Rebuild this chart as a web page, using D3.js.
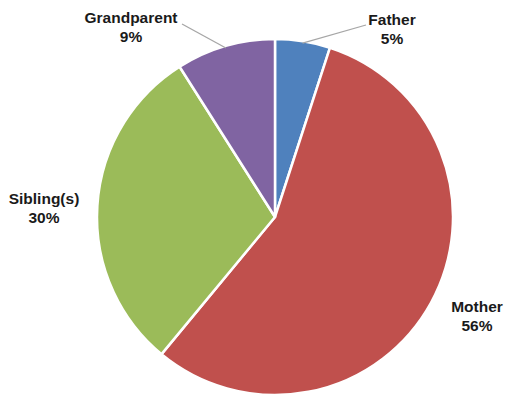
<!DOCTYPE html>
<html>
<head>
<meta charset="utf-8">
<script src="https://cdn.jsdelivr.net/npm/d3@7"></script>
<style>
  html, body { margin: 0; padding: 0; background: #ffffff; }
  svg { display: block; }
</style>
</head>
<body>
<svg id="chart" width="505" height="397"></svg>
<script>
// Who the respondents live with, share of total (%)
const categories = ["Father", "Mother", "Sibling(s)", "Grandparent"];
const values = [5, 56, 30, 9];
const colors = ["#4F81BD", "#C0504D", "#9BBB59", "#8064A2"];

// Label anchor positions (centre of the two-line label) and leader-line endpoints
const labelPos = [[392, 25], [477, 312], [44, 204], [131, 23]];
const leaderFrom = [[366, 25], null, null, [182, 24]];

const width = 505, height = 397;
const cx = 275, cy = 217, radius = 178;

const svg = d3.select("#chart");
const g = svg.append("g").attr("transform", `translate(${cx},${cy})`);

const data = categories.map((c, i) => ({ name: c, value: values[i], color: colors[i], i }));

const pie = d3.pie().value(d => d.value).sort(null);
const arc = d3.arc().innerRadius(0).outerRadius(radius);
const arcs = pie(data);

g.selectAll("path.slice")
  .data(arcs)
  .join("path")
  .attr("class", "slice")
  .attr("d", arc)
  .attr("fill", d => d.data.color)
  .attr("stroke", "#ffffff")
  .attr("stroke-width", 2.5)
  .attr("stroke-linejoin", "round");

// Leader lines for the small slices
const edge = d3.arc().innerRadius(radius - 2).outerRadius(radius - 2);
arcs.forEach(d => {
  const from = leaderFrom[d.data.i];
  if (!from) return;
  const [ex, ey] = edge.centroid(d);
  svg.append("line")
    .attr("x1", from[0]).attr("y1", from[1])
    .attr("x2", cx + ex).attr("y2", cy + ey)
    .attr("stroke", "#a6a6a6")
    .attr("stroke-width", 1.3);
});

// Category name and percentage labels
const fmt = v => `${v}%`;
const labels = svg.selectAll("g.label")
  .data(data)
  .join("g")
  .attr("class", "label")
  .attr("transform", d => `translate(${labelPos[d.i][0]},${labelPos[d.i][1]})`);

labels.append("text")
  .attr("text-anchor", "middle")
  .attr("font-family", "Liberation Sans, Arial, sans-serif")
  .attr("font-weight", "bold")
  .attr("font-size", 15.5)
  .attr("fill", "#1a1a1a")
  .text(d => d.name);

labels.append("text")
  .attr("text-anchor", "middle")
  .attr("y", 19)
  .attr("font-family", "Liberation Sans, Arial, sans-serif")
  .attr("font-weight", "bold")
  .attr("font-size", 15.5)
  .attr("fill", "#1a1a1a")
  .text(d => fmt(d.value));
</script>
</body>
</html>
